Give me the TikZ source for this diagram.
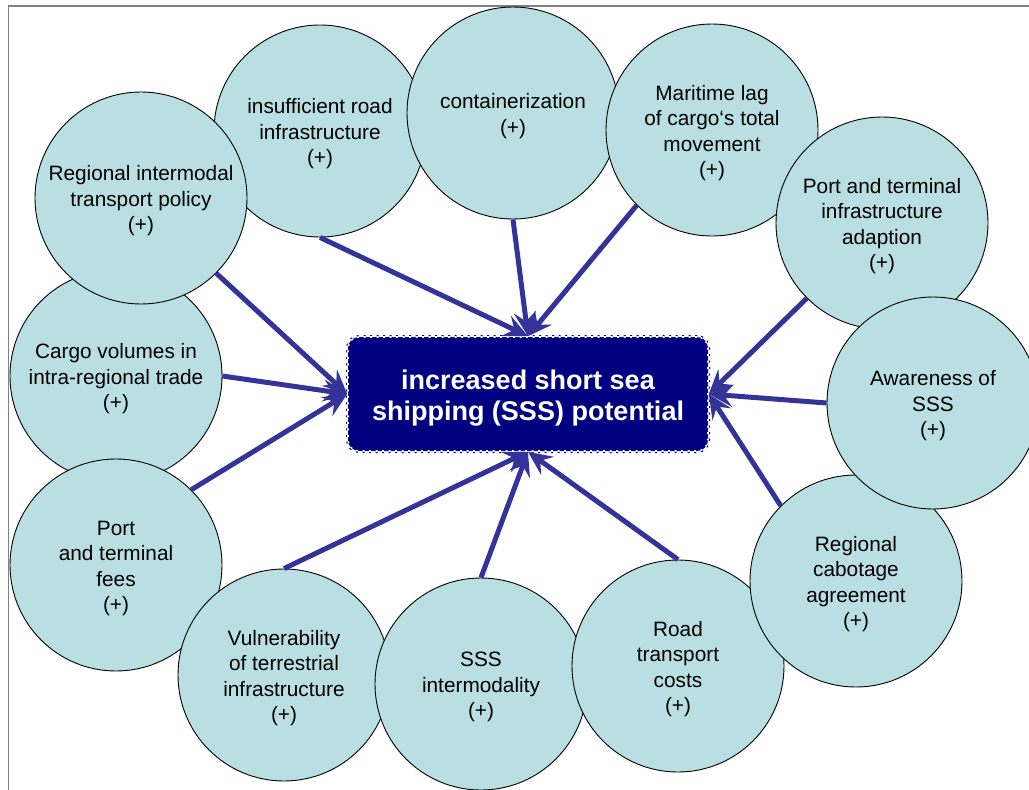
\documentclass[tikz,border=0pt]{standalone}
\usepackage{fontspec}
\setmainfont{Liberation Sans}
\usetikzlibrary{arrows.meta}
\tikzset{>=latex}
\definecolor{bubble}{RGB}{185,223,226}
\definecolor{deepnavy}{RGB}{0,0,128}
\definecolor{pullblue}{RGB}{51,51,153}
\newcommand{\lift}[1]{\rule{0pt}{#1}}
\tikzset{every text node part/.style={align=center}}
\tikzset{factor/.style={circle, draw=black, line width=0.9pt, fill=bubble, minimum size=212pt, inner sep=0pt, font=\fontsize{20.8}{25.5}\selectfont}}
\tikzset{goal/.style={rectangle, rounded corners=11pt, fill=deepnavy, draw=white, line width=1.6pt, dash pattern=on 2pt off 4.5pt, preaction={draw=deepnavy, line width=4pt}, minimum width=360pt, minimum height=114pt, text=white, font=\fontsize{27}{31}\selectfont\bfseries}}
\tikzset{pull/.style={draw=pullblue, line width=5pt, -{Stealth[length=24pt, width=22pt, inset=9pt]}}}

\begin{document}
\begin{tikzpicture}[x=1pt, y=-1pt]
	\useasboundingbox (0,0) rectangle (1029,790);
	\clip (0,0) rectangle (1029,790);
	
	% Frame
	\draw[gray, line width=1.5pt] (8.5,790) -- (8.5,6) -- (1029,6);
	
	% Factors (back to front)
	\node[factor] (volumes) at (116,376) {\lift{21pt}Cargo volumes in\\intra-regional trade\\(+)};
	\node[factor] (fees) at (116,565) {\lift{21pt}Port\\and terminal\\fees\\(+)};
	\node[factor] (vuln) at (284,675) {\lift{21pt}Vulnerability\\of terrestrial\\infrastructure\\(+)};
	\node[factor] (intermod) at (481,684) {\lift{21pt}SSS\\intermodality\\(+)};
	\node[factor] (costs) at (678,666) {\lift{21pt}Road\\transport\\costs\\(+)};
	\node[factor] (cabotage) at (856,581) {\lift{21pt}Regional\\cabotage\\agreement\\(+)};
	\node[factor] (road) at (320,131) {\lift{21pt}insufficient road\\infrastructure\\(+)};
	\node[factor] (container) at (513,113) {\lift{21pt}containerization\\(+)};
	\node[factor] (lag) at (712,130) {\lift{21pt}Maritime lag\\of cargo‘s total\\movement\\(+)};
	\node[factor] (adapt) at (882,223) {\lift{21pt}Port and terminal\\infrastructure\\adaption\\(+)};
	\node[factor] (aware) at (933,403) {\lift{21pt}Awareness of\\SSS\\(+)};
	\node[factor] (policy) at (141,198) {\lift{21pt}Regional intermodal\\transport policy\\(+)};
	
	% Central node
	\node[goal] (sss) at (528,394) {\lift{27pt}increased short sea\\shipping (SSS) potential};
	
	% Arrows
	\foreach \src/\from/\to in {policy/south east/west, volumes/east/west, fees/north east/west,
		road/south/north, container/south/north, lag/south west/north,
		adapt/south west/east, aware/west/east, cabotage/north west/east,
		costs/north/south, intermod/north/south, vuln/north/south}
	{
		\draw[pull] (\src.\from) -- (sss.\to);
	}
\end{tikzpicture}
\end{document}
